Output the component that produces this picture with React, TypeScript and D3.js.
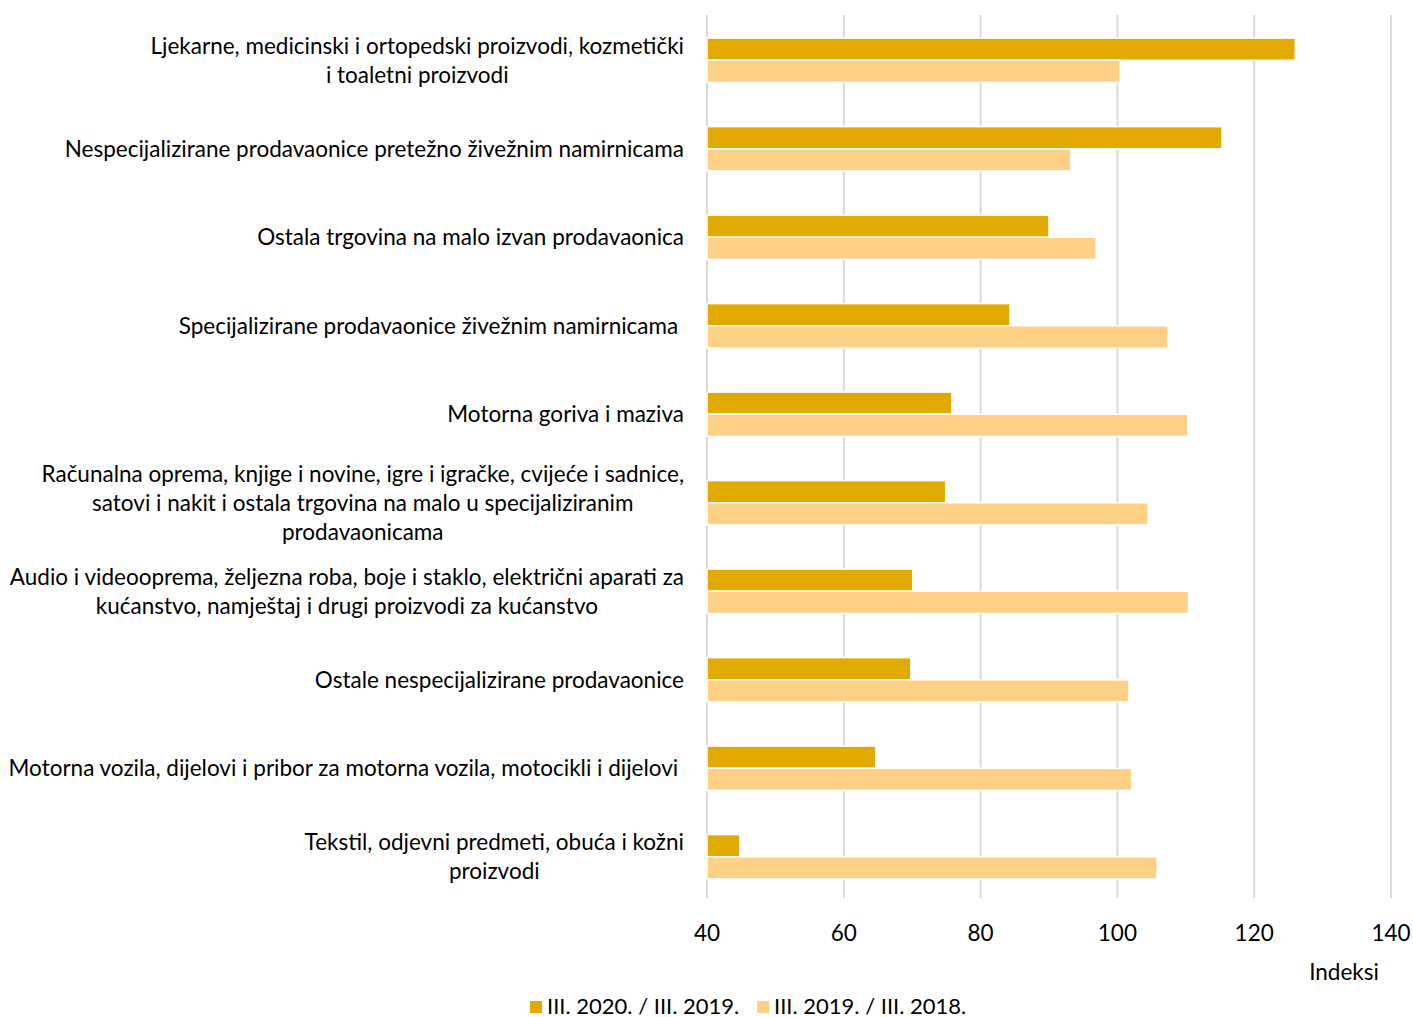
import React, { useEffect, useRef } from "react";
import * as d3 from "d3";

const categories: string[][] = [
  ["Ljekarne, medicinski i ortopedski proizvodi, kozmetički", "i toaletni proizvodi"],
  ["Nespecijalizirane prodavaonice pretežno živežnim namirnicama"],
  ["Ostala trgovina na malo izvan prodavaonica"],
  ["Specijalizirane prodavaonice živežnim namirnicama "],
  ["Motorna goriva i maziva"],
  ["Računalna oprema, knjige i novine, igre i igračke, cvijeće i sadnice,", "satovi i nakit i ostala trgovina na malo u specijaliziranim", "prodavaonicama"],
  ["Audio i videooprema, željezna roba, boje i staklo, električni aparati za", "kućanstvo, namještaj i drugi proizvodi za kućanstvo"],
  ["Ostale nespecijalizirane prodavaonice"],
  ["Motorna vozila, dijelovi i pribor za motorna vozila, motocikli i dijelovi "],
  ["Tekstil, odjevni predmeti, obuća i kožni", "proizvodi"],
];

const series2020: number[] = [126.0, 115.3, 90.0, 84.3, 75.8, 74.9, 70.1, 69.8, 64.7, 44.8];
const series2019: number[] = [100.4, 93.2, 96.9, 107.4, 110.3, 104.5, 110.4, 101.7, 102.1, 105.8];

const seriesNames: string[] = ["III. 2020. / III. 2019.", "III. 2019. / III. 2018."];
const seriesColors: string[] = ["#E2AA00", "#FED085"];
const xTicks: number[] = [40, 60, 80, 100, 120, 140];
const axisTitle = "Indeksi";

const W = 1413;
const H = 1017;
const FONT = "Lato, 'Open Sans', sans-serif";
const FS = 22.5;

export default function App() {
  const ref = useRef<SVGSVGElement>(null);

  useEffect(() => {
    const svg = d3.select(ref.current);
    svg.selectAll("*").remove();

    const x = d3.scaleLinear().domain([40, 140]).range([707, 1391]);
    const idx = categories.map((_, i) => String(i));
    const y = d3.scaleBand().domain(idx).range([16, 901]).paddingInner(0).paddingOuter(0);
    const inner = d3.scaleBand().domain(["0", "1"]).range([0, y.bandwidth() * 0.5]);
    const off = y.bandwidth() * 0.25;

    // gridlines
    svg.append("g")
      .selectAll("line")
      .data(xTicks)
      .join("line")
      .attr("x1", (d) => x(d))
      .attr("x2", (d) => x(d))
      .attr("y1", 15)
      .attr("y2", 898)
      .attr("stroke", "#D9D9D9")
      .attr("stroke-width", 2);

    const all = [series2020, series2019];
    all.forEach((vals, s) => {
      svg.append("g")
        .selectAll("rect")
        .data(vals)
        .join("rect")
        .attr("x", x(40))
        .attr("y", (_, i) => (y(String(i)) as number) + off + (inner(String(s)) as number))
        .attr("width", (d) => x(d) - x(40))
        .attr("height", inner.bandwidth())
        .attr("fill", seriesColors[s])
        .attr("stroke", "#fff")
        .attr("stroke-width", 1.5);
    });

    // category labels
    const lineH = 29;
    const labelRight = 684;
    categories.forEach((lines, i) => {
      const cy = (y(String(i)) as number) + y.bandwidth() / 2;
      const g = svg.append("g");
      const texts = lines.map((ln, j) =>
        g.append("text")
          .attr("y", cy + (j - (lines.length - 1) / 2) * lineH)
          .attr("dy", "0.35em")
          .attr("font-family", FONT)
          .attr("font-size", FS)
          .attr("fill", "#000")
          .style("white-space", "pre")
          .attr("text-anchor", "middle")
          .text(ln)
      );
      const widths = texts.map((t) => (t.node() as SVGTextElement).getComputedTextLength());
      const bw = Math.max(...widths);
      texts.forEach((t) => t.attr("x", labelRight - bw / 2));
    });

    // tick labels
    svg.append("g")
      .selectAll("text")
      .data(xTicks)
      .join("text")
      .attr("x", (d) => x(d))
      .attr("y", 933)
      .attr("dy", "0.35em")
      .attr("text-anchor", "middle")
      .attr("font-family", FONT)
      .attr("font-size", FS)
      .attr("fill", "#000")
      .text((d) => String(d));

    svg.append("text")
      .attr("x", 1344)
      .attr("y", 972)
      .attr("dy", "0.35em")
      .attr("text-anchor", "middle")
      .attr("font-family", FONT)
      .attr("font-size", FS)
      .attr("fill", "#000")
      .text(axisTitle);

    // legend
    const lg = svg.append("g");
    const starts = [530, 757];
    seriesNames.forEach((nm, s) => {
      lg.append("rect")
        .attr("x", starts[s])
        .attr("y", 1001)
        .attr("width", 12)
        .attr("height", 12)
        .attr("fill", seriesColors[s]);
      lg.append("text")
        .attr("x", starts[s] + 17)
        .attr("y", 1006)
        .attr("dy", "0.35em")
        .attr("font-family", FONT)
        .attr("font-size", 22)
        .attr("fill", "#000")
        .text(nm);
    });
  }, []);

  return (
    <svg
      ref={ref}
      width={W}
      height={H}
      style={{ position: "absolute", left: 0, top: 0, background: "#fff" }}
    />
  );
}
